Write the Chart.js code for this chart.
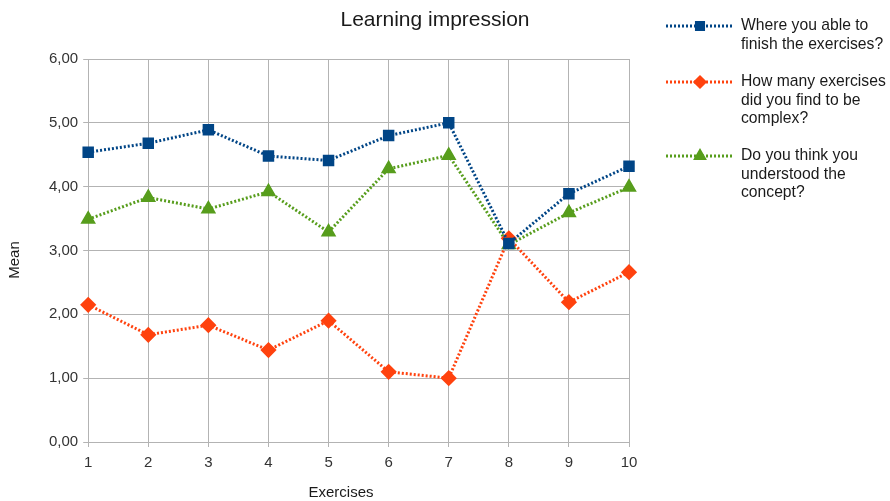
<!DOCTYPE html>
<html>
<head>
<meta charset="utf-8">
<script src="https://cdn.jsdelivr.net/npm/chart.js@4"></script>
<style>
  html, body { margin: 0; padding: 0; background: #fff; }
  #wrap { width: 890px; height: 501px; position: relative; }
</style>
</head>
<body>
<div id="wrap"><canvas id="chart" width="890" height="501"></canvas></div>
<script>
const exercises = ['1', '2', '3', '4', '5', '6', '7', '8', '9', '10'];
const finished = [4.54, 4.68, 4.89, 4.48, 4.41, 4.80, 5.00, 3.11, 3.89, 4.32];
const complex = [2.15, 1.68, 1.83, 1.44, 1.90, 1.10, 1.00, 3.19, 2.19, 2.66];
const understood = [3.49, 3.83, 3.65, 3.92, 3.29, 4.28, 4.49, 3.09, 3.59, 3.99];
const seriesLabels = [
    ['Where you able to', 'finish the exercises?'],
    ['How many exercises', 'did you find to be', 'complex?'],
    ['Do you think you', 'understood the', 'concept?']
];

const FONT = '"Liberation Sans", Arial, sans-serif';
Chart.defaults.font.family = FONT;
Chart.defaults.color = '#333';

function lineSet(label, data, color, style, radius) {
    return {
        label: label,
        data: data,
        borderColor: color,
        backgroundColor: color,
        borderWidth: 3,
        borderDash: [2, 2],
        pointStyle: style,
        pointRadius: radius,
        pointHoverRadius: radius,
        tension: 0
    };
}

// title, axis titles and legend drawn by hand so they sit where the original has them
const decorations = {
    id: 'decorations',
    afterDraw(chart) {
        const ctx = chart.ctx;
        ctx.save();
        ctx.fillStyle = '#1a1a1a';
        ctx.textAlign = 'center';
        ctx.textBaseline = 'middle';
        ctx.font = '21px ' + FONT;
        ctx.fillText('Learning impression', 435, 20);
        ctx.font = '15px ' + FONT;
        ctx.fillText('Exercises', 341, 493);
        ctx.translate(15, 260);
        ctx.rotate(-Math.PI / 2);
        ctx.fillText('Mean', 0, 0);
        ctx.restore();

        const startY = [26, 82, 156];
        chart.data.datasets.forEach((ds, i) => {
            const y = startY[i];
            ctx.save();
            ctx.strokeStyle = ds.borderColor;
            ctx.lineWidth = 3;
            ctx.setLineDash([2, 2]);
            ctx.beginPath();
            ctx.moveTo(666, y);
            ctx.lineTo(732, y);
            ctx.stroke();
            ctx.setLineDash([]);
            ctx.fillStyle = ds.backgroundColor;
            ctx.strokeStyle = ds.borderColor;
            Chart.helpers.drawPoint(ctx, {
                pointStyle: ds.pointStyle,
                radius: 5,
                borderWidth: 1,
                rotation: 0
            }, 700, y);
            ctx.fillStyle = '#1a1a1a';
            ctx.font = '15.7px ' + FONT;
            ctx.textAlign = 'left';
            ctx.textBaseline = 'middle';
            seriesLabels[i].forEach((t, k) => {
                ctx.fillText(t, 741, y + k * 18.5);
            });
            ctx.restore();
        });
    }
};

new Chart(document.getElementById('chart'), {
    type: 'line',
    data: {
        labels: exercises,
        datasets: [
            lineSet('Where you able to finish the exercises?', finished, '#004586', 'rect', 6),
            lineSet('How many exercises did you find to be complex?', complex, '#ff420e', 'rectRot', 6),
            lineSet('Do you think you understood the concept?', understood, '#579d1c', 'triangle', 6)
        ]
    },
    options: {
        responsive: false,
        animation: false,
        layout: { padding: { left: 44, right: 261, top: 59, bottom: 22 } },
        plugins: {
            legend: { display: false },
            tooltip: { enabled: false },
            title: { display: false }
        },
        scales: {
            x: {
                offset: false,
                grid: { color: '#b3b3b3', tickLength: 5 },
                border: { color: '#b3b3b3' },
                ticks: { color: '#333', font: { size: 15 }, padding: 7, maxRotation: 0 }
            },
            y: {
                min: 0,
                max: 6,
                grid: { color: '#b3b3b3', tickLength: 5 },
                border: { color: '#b3b3b3' },
                ticks: {
                    stepSize: 1,
                    color: '#333',
                    font: { size: 15 },
                    padding: 5,
                    callback: v => v.toFixed(2).replace('.', ',')
                }
            }
        }
    },
    plugins: [decorations]
});
</script>
</body>
</html>
